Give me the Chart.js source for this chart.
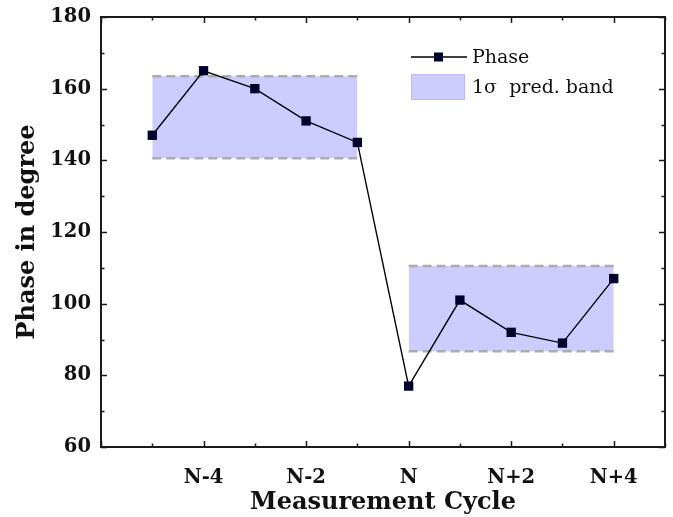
<!DOCTYPE html>
<html>
<head>
<meta charset="utf-8">
<script src="https://cdn.jsdelivr.net/npm/chart.js"></script>
<style>
  html, body { margin: 0; padding: 0; background: #fff; }
  #wrap { width: 673px; height: 517px; }
</style>
</head>
<body>
<div id="wrap"><canvas id="phaseChart" width="673" height="517"></canvas></div>
<script>
// measurement cycles, relative to cycle N
const cycleIndex = [-5, -4, -3, -2, -1, 0, 1, 2, 3, 4];
const phaseValues = [147, 165, 160, 151, 145, 77, 101, 92, 89, 107];

// 1 sigma prediction bands (before / after cycle N)
const bandStart = [-5, 0];
const bandEnd = [-1, 4];
const bandUpper = [163.5, 110.5];
const bandLower = [140.6, 86.7];

// x tick labels
const xTickValues = [-4, -2, 0, 2, 4];
const xTickLabels = ['N-4', 'N-2', 'N', 'N+2', 'N+4'];

const bandFill = 'rgb(204, 204, 255)';
const bandEdge = 'rgb(172, 172, 172)';
const markColor = 'rgb(0, 0, 45)';

const datasets = [{
    label: 'Phase',
    data: cycleIndex.map((x, i) => ({ x: x, y: phaseValues[i] })),
    borderColor: '#000',
    borderWidth: 1.4,
    backgroundColor: markColor,
    pointStyle: 'rect',
    pointRadius: 6.6,
    pointBorderWidth: 0,
    fill: false,
    order: 0
}];

for (let i = 0; i < bandStart.length; i++) {
    datasets.push({
        label: 'band-upper-' + i,
        data: [{ x: bandStart[i], y: bandUpper[i] }, { x: bandEnd[i], y: bandUpper[i] }],
        borderColor: bandEdge,
        borderWidth: 2.5,
        borderDash: [9, 5],
        pointRadius: 0,
        fill: false,
        order: 2
    });
    datasets.push({
        label: 'band-lower-' + i,
        data: [{ x: bandStart[i], y: bandLower[i] }, { x: bandEnd[i], y: bandLower[i] }],
        borderColor: bandEdge,
        borderWidth: 2.5,
        borderDash: [9, 5],
        backgroundColor: bandFill,
        pointRadius: 0,
        fill: '-1',
        order: 1
    });
}

// frame with inward ticks (major + minor) on all four sides
const framePlugin = {
    id: 'frame',
    afterDatasetsDraw(chart) {
        const { ctx, chartArea: a, scales } = chart;
        const x = scales.x, y = scales.y;
        ctx.save();
        ctx.strokeStyle = '#1a1a1a';
        ctx.lineWidth = 1.5;
        ctx.beginPath();
        for (let v = -6; v <= 5; v++) {
            const px = Math.round(x.getPixelForValue(v)) + 0.5;
            const len = v % 2 === 0 ? 6 : 3.5;
            ctx.moveTo(px, a.bottom); ctx.lineTo(px, a.bottom - len);
            ctx.moveTo(px, a.top); ctx.lineTo(px, a.top + len);
        }
        for (let v = 60; v <= 180; v += 10) {
            const py = Math.round(y.getPixelForValue(v)) + 0.5;
            const len = v % 20 === 0 ? 6 : 3.5;
            ctx.moveTo(a.left, py); ctx.lineTo(a.left + len, py);
            ctx.moveTo(a.right, py); ctx.lineTo(a.right - len, py);
        }
        ctx.stroke();
        ctx.lineWidth = 2;
        ctx.strokeRect(a.left, a.top, a.right - a.left, a.bottom - a.top);

        // legend
        const lx = a.left + 310, ly = a.top + 40;
        ctx.strokeStyle = '#000';
        ctx.lineWidth = 1.4;
        ctx.beginPath();
        ctx.moveTo(lx, ly); ctx.lineTo(lx + 56, ly);
        ctx.stroke();
        ctx.fillStyle = markColor;
        ctx.fillRect(lx + 23, ly - 4.5, 9, 9);
        ctx.fillStyle = bandFill;
        ctx.fillRect(lx, ly + 17, 54, 26);
        ctx.strokeStyle = 'rgb(185, 185, 240)';
        ctx.lineWidth = 1;
        ctx.strokeRect(lx + 0.5, ly + 17.5, 53, 25);
        ctx.fillStyle = '#111';
        ctx.font = '19px "DejaVu Serif"';
        ctx.textBaseline = 'middle';
        ctx.textAlign = 'left';
        ctx.fillText('Phase', lx + 61, ly + 1);
        ctx.fillText('1σ  pred. band', lx + 61, ly + 31);
        ctx.restore();
    }
};

const tickFont = { family: 'DejaVu Serif', size: 19.5, weight: 'bold' };
const titleFont = { family: 'DejaVu Serif', size: 24, weight: 'bold' };

new Chart(document.getElementById('phaseChart'), {
    type: 'line',
    data: { datasets: datasets },
    options: {
        responsive: false,
        animation: false,
        layout: { padding: { left: 0, right: 8, top: 17, bottom: 0 } },
        plugins: {
            legend: { display: false },
            tooltip: { enabled: false },
            filler: { drawTime: 'beforeDatasetsDraw' }
        },
        scales: {
            x: {
                type: 'linear',
                min: -6,
                max: 5,
                grid: { display: false, drawTicks: false },
                border: { display: false },
                afterFit: s => { s.height = 70; },
                afterBuildTicks: s => {
                    s.ticks = xTickValues.map(v => ({ value: v }));
                },
                ticks: {
                    autoSkip: false,
                    maxRotation: 0,
                    padding: 19,
                    color: '#111',
                    font: tickFont,
                    callback: v => xTickLabels[xTickValues.indexOf(v)]
                },
                title: {
                    display: true,
                    text: 'Measurement Cycle',
                    color: '#111',
                    font: titleFont,
                    padding: { top: 0, bottom: 0 }
                }
            },
            y: {
                min: 60,
                max: 180,
                grid: { display: false, drawTicks: false },
                border: { display: false },
                afterFit: s => { s.width = 101; s.paddingTop = 0; s.paddingBottom = 0; },
                ticks: {
                    stepSize: 20,
                    padding: 10,
                    color: '#111',
                    font: tickFont
                },
                title: {
                    display: true,
                    text: 'Phase in degree',
                    color: '#111',
                    font: titleFont,
                    padding: { top: 13, bottom: 0 }
                }
            }
        }
    },
    plugins: [framePlugin]
});
</script>
</body>
</html>
